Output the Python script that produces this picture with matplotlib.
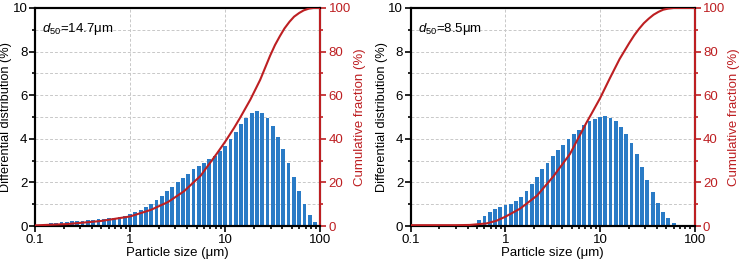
import numpy as np
import matplotlib
matplotlib.use('Agg')
import matplotlib.pyplot as plt
from matplotlib.ticker import MultipleLocator, LogLocator, NullFormatter, FixedLocator

plt.rcParams['font.family'] = ['Liberation Sans', 'DejaVu Sans']
plt.rcParams['mathtext.fontset'] = 'custom'
plt.rcParams['mathtext.rm'] = 'Liberation Sans'
plt.rcParams['mathtext.it'] = 'Liberation Sans:italic'

# bin index k -> size 10**(k/18) um (18 bins per decade)
k_a = np.arange(-17, 36)
diff_a = [0.04, 0.10, 0.13, 0.15, 0.17, 0.19, 0.21, 0.23, 0.25, 0.27, 0.29, 0.31,
          0.33, 0.36, 0.39, 0.43, 0.48,
          0.54, 0.63, 0.73, 0.86, 1.01, 1.19, 1.38, 1.59, 1.78, 2.0, 2.2, 2.4,
          2.6, 2.75, 2.9, 3.06, 3.21, 3.44,
          3.68, 3.99, 4.31, 4.66, 4.94, 5.17, 5.26, 5.17, 4.94, 4.59, 4.10, 3.53,
          2.90, 2.25, 1.61, 1.01, 0.50, 0.18]
cum_x_a = [0.1, 0.216, 0.49, 1.0, 1.65, 2.5, 3.7, 5.5, 8.1, 10, 12.4, 14.5, 18.4,
           23.3, 29.6, 33.4, 37.5, 42, 47.5, 53, 60, 67, 76, 85, 100]
cum_y_a = [0.3, 0.9, 2.3, 4.4, 7.4, 11, 16, 23, 33, 38.7, 45, 50, 58,
           67, 78, 83, 87, 90.6, 93.7, 96, 97.7, 98.9, 99.7, 100, 100]

k_b = np.arange(-5, 33)
diff_b = [0.28, 0.47, 0.65, 0.79, 0.88,
          0.95, 1.01, 1.13, 1.32, 1.61, 1.91, 2.23, 2.6, 2.9, 3.21, 3.49, 3.72,
          3.98, 4.2, 4.4, 4.63, 4.82, 4.92, 5.02,
          5.04, 4.95, 4.82, 4.56, 4.24, 3.81, 3.29, 2.72, 2.11, 1.56, 1.04, 0.63,
          0.35, 0.15]
cum_x_b = [0.1, 0.3, 0.42, 0.63, 0.8, 1.0, 1.43, 2.16, 3.2, 4.8, 7.2, 8.0, 10, 12.7,
           16.1, 20.4, 23, 25.8, 29, 32.7, 36.8, 41.4, 46.5, 52.5, 60, 70, 100]
cum_y_b = [0.4, 0.4, 0.5, 1.2, 2.4, 4.3, 8, 14, 22.7, 33, 47.5, 51, 58.6, 67.8,
           76.6, 84.0, 87.5, 90.4, 93, 95.1, 96.9, 98.2, 99.2, 99.7, 100, 100, 100]

labels = [r'$\it{d}_{\it{50}}$=14.7μm', r'$\it{d}_{\it{50}}$=8.5μm']

blue = '#2a7bc6'
red = '#bd1f22'
fs = 9.5

fig = plt.figure(figsize=(7.39, 2.65), dpi=100)
boxes = [[0.0474, 0.147, 0.386, 0.823], [0.556, 0.147, 0.384, 0.823]]
sets = [(k_a, diff_a, cum_x_a, cum_y_a), (k_b, diff_b, cum_x_b, cum_y_b)]

for box, (kk, dd, cx, cy), lab in zip(boxes, sets, labels):
    ax = fig.add_axes(box)
    size = 10.0 ** (kk / 18.0)
    lo = size * 10 ** (-0.36 / 18)
    hi = size * 10 ** (0.36 / 18)
    ax.bar(lo, dd, width=hi - lo, align='edge', color=blue, zorder=2)
    ax.set_xscale('log')
    ax.set_xlim(0.1, 100)
    ax.set_ylim(0, 10)
    ax.xaxis.set_major_locator(FixedLocator([0.1, 1, 10, 100]))
    ax.set_xticklabels(['0.1', '1', '10', '100'])
    ax.xaxis.set_minor_locator(LogLocator(base=10, subs=np.arange(2, 10)))
    ax.xaxis.set_minor_formatter(NullFormatter())
    ax.yaxis.set_major_locator(MultipleLocator(2))
    ax.yaxis.set_minor_locator(MultipleLocator(1))
    ax.grid(True, which='major', axis='x', color='#c8c8c8', ls=(0, (3, 2)), lw=0.7, zorder=0)
    ax.grid(True, which='both', axis='y', color='#c8c8c8', ls=(0, (3, 2)), lw=0.7, zorder=0)
    ax.tick_params(which='both', direction='out', labelsize=fs, width=1.2, pad=1.5)
    ax.tick_params(which='major', length=4)
    ax.tick_params(which='minor', length=2.5)
    for s in ax.spines.values():
        s.set_linewidth(1.5)
    ax.set_xlabel('Particle size (μm)', fontsize=fs, labelpad=1)
    ax.set_ylabel('Differential distribution (%)', fontsize=9.2, labelpad=0.5)
    ax.text(0.118, 9.05, lab, fontsize=fs, ha='left', va='center')

    ax2 = ax.twinx()
    ax2.plot(cx, cy, color=red, lw=1.5, zorder=3)
    ax2.set_ylim(0, 100)
    ax2.yaxis.set_major_locator(MultipleLocator(20))
    ax2.yaxis.set_minor_locator(MultipleLocator(10))
    ax2.tick_params(which='both', direction='out', labelsize=fs, width=1.2,
                    colors=red, pad=2)
    ax2.tick_params(which='major', length=4)
    ax2.tick_params(which='minor', length=2.5)
    for s in ax2.spines.values():
        s.set_linewidth(1.5)
    ax2.spines['right'].set_color(red)
    ax2.set_ylabel('Cumulative fraction (%)', fontsize=fs, color=red, labelpad=2)

fig.savefig('out.png', dpi=100)
